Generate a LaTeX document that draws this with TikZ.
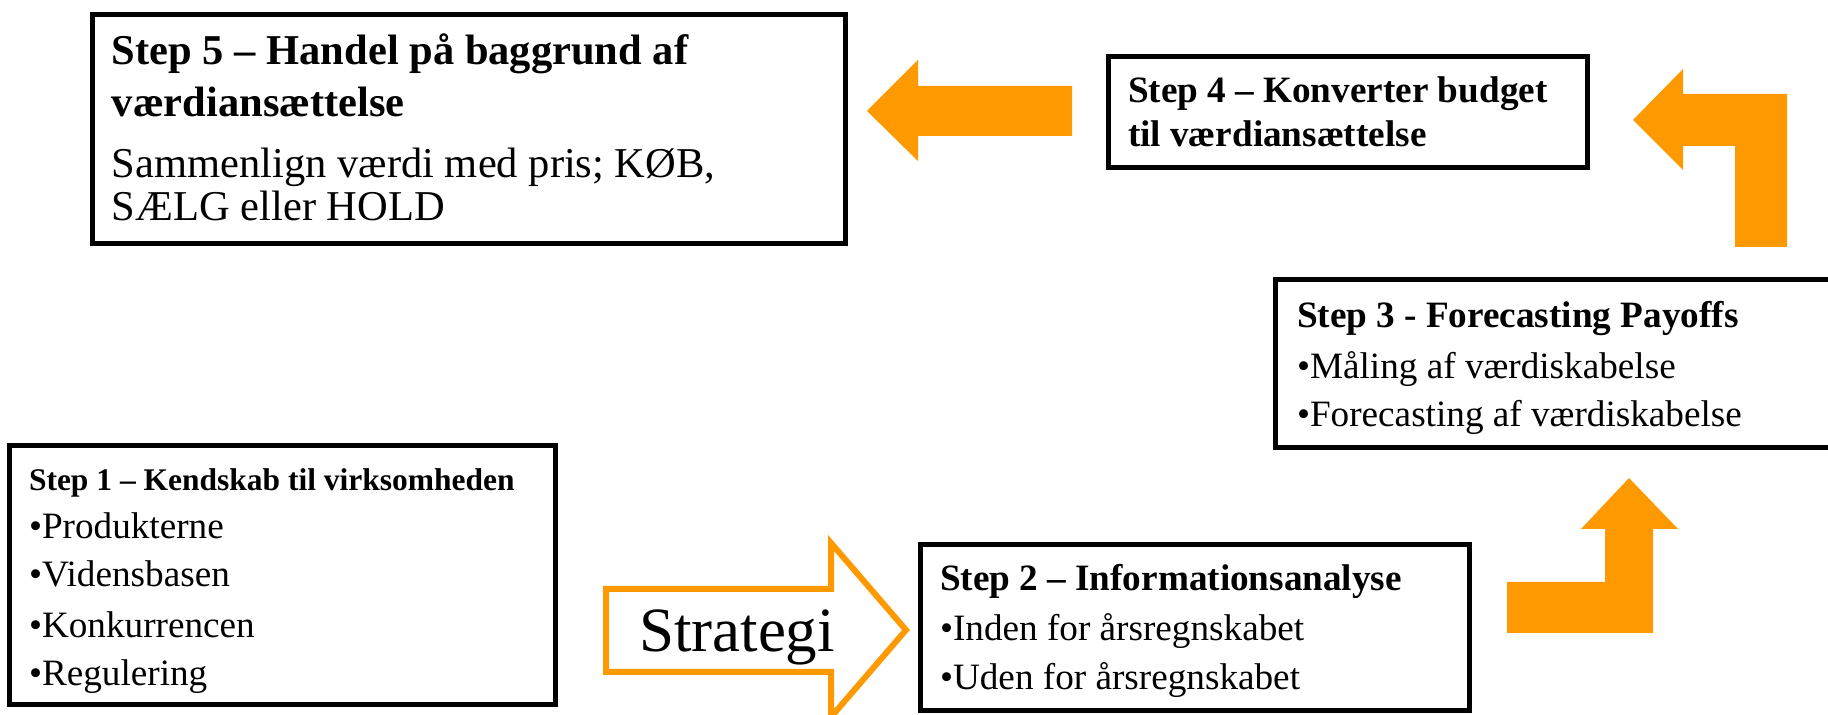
\documentclass[tikz,border=0pt]{standalone}
\usepackage{fontspec}
\setmainfont{Liberation Serif}
\definecolor{org}{RGB}{255,153,0}
\newcommand\szBig{\fontsize{21.25pt}{25pt}\selectfont}
\newcommand\szMid{\fontsize{18.6pt}{22pt}\selectfont}
\newcommand\szSmall{\fontsize{15.75pt}{19pt}\selectfont}
\newcommand\szHuge{\fontsize{31.5pt}{38pt}\selectfont}
\begin{document}
\begin{tikzpicture}[x=0.5pt,y=-0.5pt,
  box/.style={draw=black, line width=2.5pt, fill=white, inner sep=0pt, outer sep=0pt},
  txt/.style={anchor=base west, inner sep=0pt, outer sep=0pt},
  blockarrow/.style={fill=org, draw=none},
  outarrow/.style={draw=org, line width=3pt, line join=miter, fill=white}]
\useasboundingbox[fill=white] (0,0) rectangle (1828,715);

% boxes
\node[box, minimum width=376.5pt, minimum height=114.5pt] (s5) at (469,129) {};
\node[box, minimum width=239.5pt, minimum height=55.5pt] (s4) at (1348,112) {};
\node[box, minimum width=281pt, minimum height=84pt] (s3) at (1556.5,363.5) {};
\node[box, minimum width=273pt, minimum height=129.5pt] (s1) at (282.5,575) {};
\node[box, minimum width=274.5pt, minimum height=83pt] (s2) at (1195,627.5) {};

% Step 5 text
\node[txt] (t5a) at (112,65) {\szBig\bfseries Step 5 – Handel på baggrund af};
\node[txt] (t5b) at (112,117) {\szBig\bfseries værdiansættelse};
\node[txt] (t5c) at (112,178) {\szBig Sammenlign værdi med pris; KØB,};
\node[txt] (t5d) at (112,221) {\szBig SÆLG eller HOLD};

% Step 4 text
\node[txt] (t4a) at (1128,103) {\szMid\bfseries Step 4 – Konverter budget};
\node[txt] (t4b) at (1128,147) {\szMid\bfseries til værdiansættelse};

% Step 3 text
\node[txt] (t3a) at (1297,328) {\szMid\bfseries Step 3 - Forecasting Payoffs};
\node[txt] (t3b) at (1297,379) {\szMid •Måling af værdiskabelse};
\node[txt] (t3c) at (1297,427) {\szMid •Forecasting af værdiskabelse};

% Step 1 text
\node[txt] (t1a) at (29,491) {\szSmall\bfseries Step 1 – Kendskab til virksomheden};
\node[txt] (t1b) at (29,539) {\szMid •Produkterne};
\node[txt] (t1c) at (29,587) {\szMid •Vidensbasen};
\node[txt] (t1d) at (29,638) {\szMid •Konkurrencen};
\node[txt] (t1e) at (29,686) {\szMid •Regulering};

% Step 2 text
\node[txt] (t2a) at (940,591) {\szMid\bfseries Step 2 – Informationsanalyse};
\node[txt] (t2b) at (940,641) {\szMid •Inden for årsregnskabet};
\node[txt] (t2c) at (940,690) {\szMid •Uden for årsregnskabet};

% Strategi outlined arrow
\draw[outarrow] (606,589) -- (831,589) -- (831,543) -- (906,630) -- (831,717)
  -- (831,672) -- (606,672) -- cycle;
\node[txt] (strat) at (639,652) {\szHuge Strategi};

% orange block arrows
\fill[blockarrow] (1072,86) -- (918,86) -- (918,60) -- (867,111) -- (918,161)
  -- (918,136) -- (1072,136) -- cycle;
\fill[blockarrow] (1787,247) -- (1787,94) -- (1683,94) -- (1683,69) -- (1633,120)
  -- (1683,170) -- (1683,146) -- (1735,146) -- (1735,247) -- cycle;
\fill[blockarrow] (1507,633) -- (1653,633) -- (1653,529) -- (1678,529) -- (1629,478)
  -- (1581,529) -- (1605,529) -- (1605,582) -- (1507,582) -- cycle;
\end{tikzpicture}
\end{document}
